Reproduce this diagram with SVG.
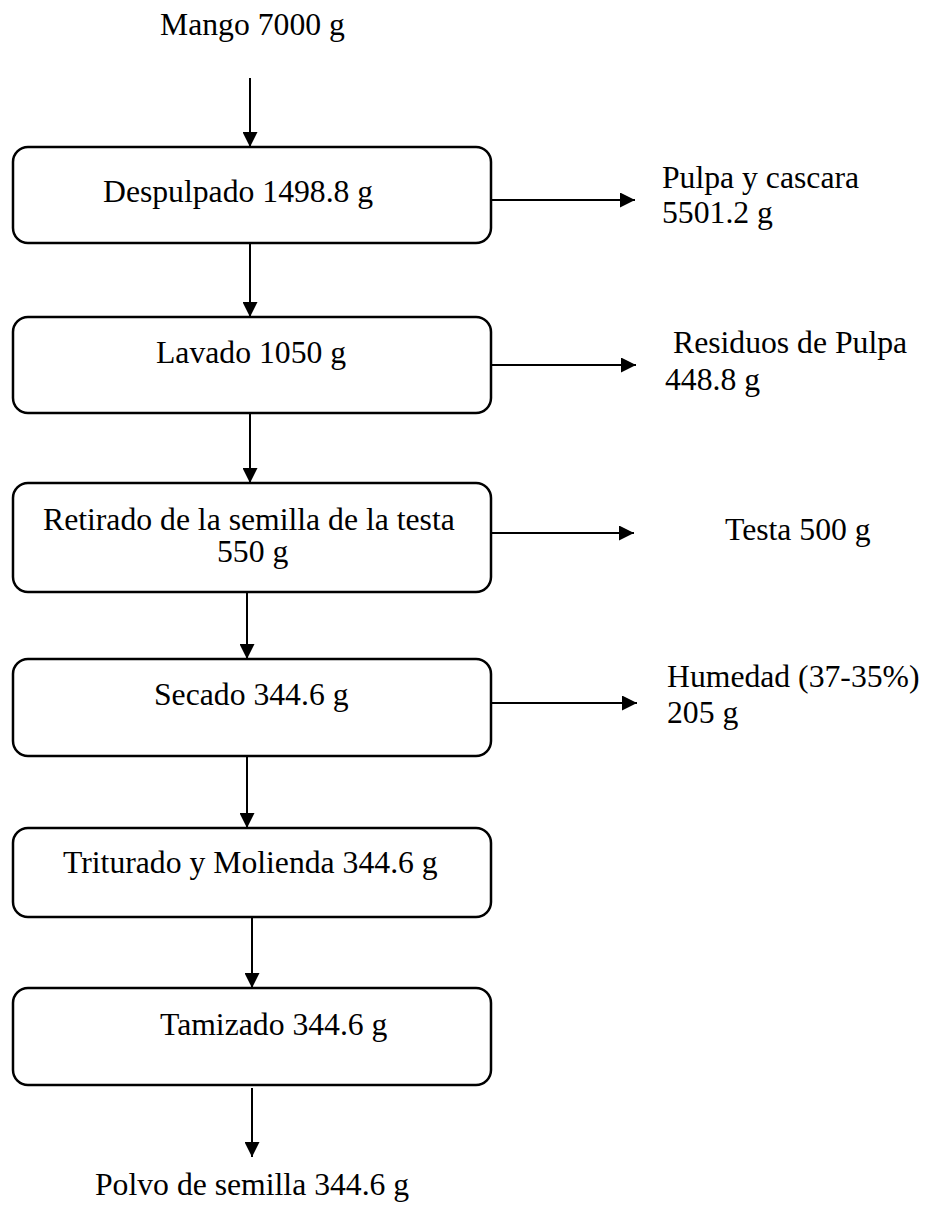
<svg xmlns="http://www.w3.org/2000/svg" width="935" height="1212" viewBox="0 0 935 1212">
<style>
text{font-family:"Liberation Serif","Times New Roman",serif;font-size:31.7px;fill:#000}
.box{fill:#fff;stroke:#000;stroke-width:2.5}
.con{stroke:#000;stroke-width:2;fill:none}
</style>
<defs>
<marker id="ah" viewBox="0 0 15 15" refX="15" refY="7.5" markerWidth="15" markerHeight="15" markerUnits="userSpaceOnUse" orient="auto">
<path d="M0,0 L15,7.5 L0,15 Z" fill="#000"/>
</marker>
</defs>
<rect width="935" height="1212" fill="#fff"/>
<g id="input"><text x="160" y="35">Mango 7000 g</text></g>
<g id="despulpado"><rect class="box" x="13" y="147" width="478" height="96" rx="15"/><text x="103" y="202">Despulpado 1498.8 g</text></g>
<g id="lavado"><rect class="box" x="13" y="317" width="478" height="96" rx="15"/><text x="156" y="363">Lavado 1050 g</text></g>
<g id="retirado"><rect class="box" x="13" y="483" width="478" height="109" rx="15"/><text x="43" y="530">Retirado de la semilla de la testa</text><text x="217" y="562">550 g</text></g>
<g id="secado"><rect class="box" x="13" y="659" width="478" height="97" rx="15"/><text x="154" y="705">Secado 344.6 g</text></g>
<g id="triturado"><rect class="box" x="13" y="828" width="478" height="89" rx="15"/><text x="63" y="873">Triturado y Molienda 344.6 g</text></g>
<g id="tamizado"><rect class="box" x="13" y="988" width="478" height="97" rx="15"/><text x="160" y="1035">Tamizado 344.6 g</text></g>
<g id="output"><text x="95" y="1195">Polvo de semilla 344.6 g</text></g>
<g id="out1"><text x="662" y="188">Pulpa y cascara</text><text x="662" y="223">5501.2 g</text></g>
<g id="out2"><text x="673" y="353">Residuos de Pulpa</text><text x="665" y="390">448.8 g</text></g>
<g id="out3"><text x="725" y="540">Testa 500 g</text></g>
<g id="out4"><text x="667" y="687">Humedad (37-35%)</text><text x="667" y="723">205 g</text></g>
<g id="connectors">
<line class="con" x1="250" y1="78" x2="250" y2="147" marker-end="url(#ah)"/>
<line class="con" x1="250" y1="243" x2="250" y2="317" marker-end="url(#ah)"/>
<line class="con" x1="250" y1="413" x2="250" y2="483" marker-end="url(#ah)"/>
<line class="con" x1="247" y1="592" x2="247" y2="659" marker-end="url(#ah)"/>
<line class="con" x1="247" y1="756" x2="247" y2="828" marker-end="url(#ah)"/>
<line class="con" x1="252" y1="917" x2="252" y2="988" marker-end="url(#ah)"/>
<line class="con" x1="252" y1="1088" x2="252" y2="1157" marker-end="url(#ah)"/>
<line class="con" x1="491" y1="200" x2="635" y2="200" marker-end="url(#ah)"/>
<line class="con" x1="491" y1="365" x2="636" y2="365" marker-end="url(#ah)"/>
<line class="con" x1="491" y1="533" x2="634" y2="533" marker-end="url(#ah)"/>
<line class="con" x1="491" y1="703" x2="637" y2="703" marker-end="url(#ah)"/>
</g>
</svg>
